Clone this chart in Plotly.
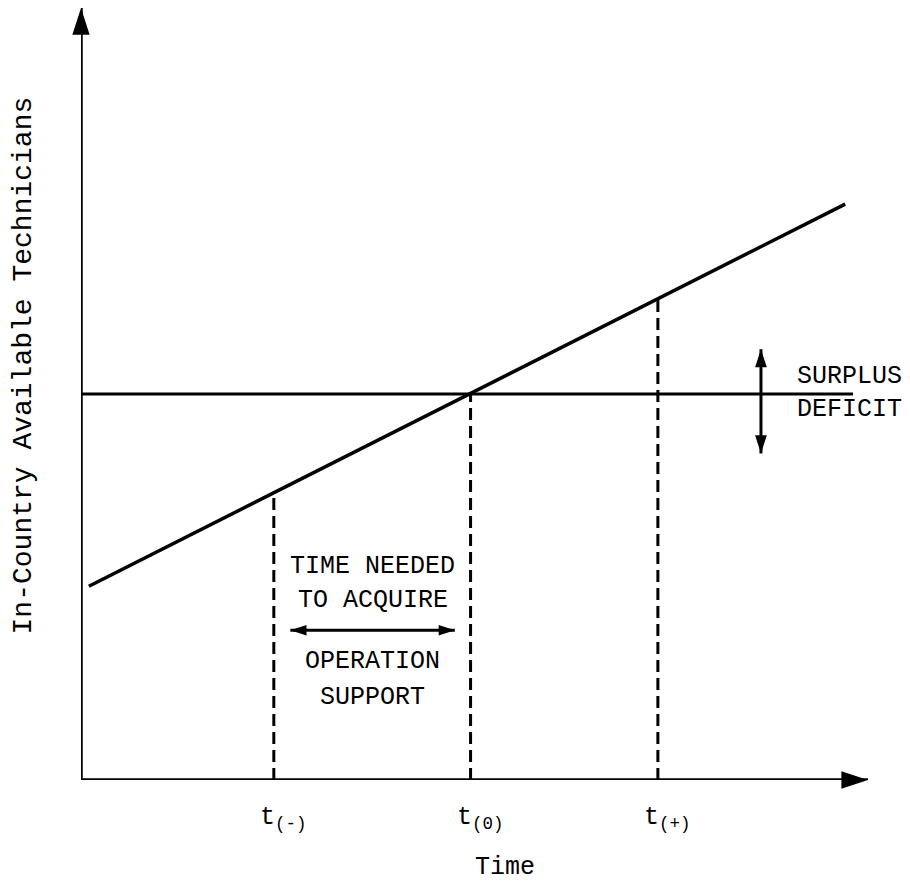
import plotly.graph_objects as go

# ---- data (schematic units) ----
supply_x = [0.10, 9.71]          # in-country available technicians line
supply_y = [2.51, 7.46]
requirement_level = 5.0          # surplus / deficit threshold
requirement_x = [0.0, 9.81]
t_names = ["t<sub>(-)</sub>", "t<sub>(0)</sub>", "t<sub>(+)</sub>"]
t_values = [2.45, 4.95, 7.33]
t_heights = [3.73, 5.0, 6.24]
x_title = "Time"
y_title = "In-Country Available Technicians"
span_lines = ["TIME NEEDED", "TO ACQUIRE", "OPERATION", "SUPPORT"]
span_range = [2.66, 4.75]
surplus_labels = ["SURPLUS", "DEFICIT"]
surplus_arrow_range = [4.23, 5.58]

FONT = "Liberation Mono, Courier New, monospace"
INK = "#000000"

fig = go.Figure()

# axes (with arrowheads)
fig.add_trace(go.Scatter(x=[0, 0], y=[0, 10], mode="lines+markers",
                         line=dict(color=INK, width=3.5),
                         marker=dict(symbol="arrow", size=[0, 28], angle=0, color=INK,
                                     opacity=1, line=dict(width=0)),
                         cliponaxis=False, hoverinfo="skip"))
fig.add_trace(go.Scatter(x=[0, 10], y=[0, 0], mode="lines+markers",
                         line=dict(color=INK, width=3.5),
                         marker=dict(symbol="arrow", size=[0, 28], angle=90, color=INK,
                                     opacity=1, line=dict(width=0)),
                         cliponaxis=False, hoverinfo="skip"))

# supply line
fig.add_trace(go.Scatter(x=supply_x, y=supply_y, mode="lines",
                         line=dict(color=INK, width=3.5), cliponaxis=False, hoverinfo="skip"))
# requirement line
fig.add_trace(go.Scatter(x=requirement_x, y=[requirement_level] * 2, mode="lines",
                         line=dict(color=INK, width=3), cliponaxis=False, hoverinfo="skip"))

# dashed drop lines
for tv, th in zip(t_values, t_heights):
    fig.add_trace(go.Scatter(x=[tv, tv], y=[0, th], mode="lines",
                             line=dict(color=INK, width=3, dash="12px,6px"),
                             cliponaxis=False, hoverinfo="skip"))

# time-span double arrow
span_y = 1.94
fig.add_trace(go.Scatter(x=span_range, y=[span_y, span_y], mode="lines+markers",
                         line=dict(color=INK, width=3),
                         marker=dict(symbol="arrow", size=17, angle=[270, 90], color=INK,
                                     opacity=1, line=dict(width=0)),
                         cliponaxis=False, hoverinfo="skip"))

# surplus/deficit double arrow
sd_x = 8.64
fig.add_trace(go.Scatter(x=[sd_x, sd_x], y=surplus_arrow_range, mode="lines+markers",
                         line=dict(color=INK, width=3),
                         marker=dict(symbol="arrow", size=19, angle=[180, 0], color=INK,
                                     opacity=1, line=dict(width=0)),
                         cliponaxis=False, hoverinfo="skip"))

ann = []
fs = 25
for name, tv in zip(t_names, t_values):
    ann.append(dict(x=tv, y=0, yshift=-38, xshift=10, text=name, showarrow=False,
                    font=dict(family=FONT, size=fs, color=INK)))
ann.append(dict(x=5.39, y=0, yshift=-87, text=x_title, showarrow=False,
                font=dict(family=FONT, size=fs, color=INK)))
ann.append(dict(x=0, y=5.37, xshift=-58, text=y_title, textangle=-90, showarrow=False,
                font=dict(family=FONT, size=28, color=INK)))

span_ys = [2.77, 2.32, 1.53, 1.07]
for txt, yy in zip(span_lines, span_ys):
    ann.append(dict(x=(span_range[0] + span_range[1]) / 2, y=yy, text=txt, showarrow=False,
                    font=dict(family=FONT, size=fs, color=INK)))

ann.append(dict(x=9.07, y=requirement_level, yshift=18, xanchor="left", text=surplus_labels[0],
                showarrow=False, font=dict(family=FONT, size=fs, color=INK)))
ann.append(dict(x=9.07, y=requirement_level, yshift=-15, xanchor="left", text=surplus_labels[1],
                showarrow=False, font=dict(family=FONT, size=fs, color=INK)))

fig.update_layout(
    width=902, height=876,
    margin=dict(l=73, r=42, t=0, b=104),
    paper_bgcolor="white", plot_bgcolor="white",
    showlegend=False,
    xaxis=dict(range=[0, 10], visible=False, fixedrange=True),
    yaxis=dict(range=[0, 10], visible=False, fixedrange=True),
    annotations=ann,
)

fig.write_html("out.html")
